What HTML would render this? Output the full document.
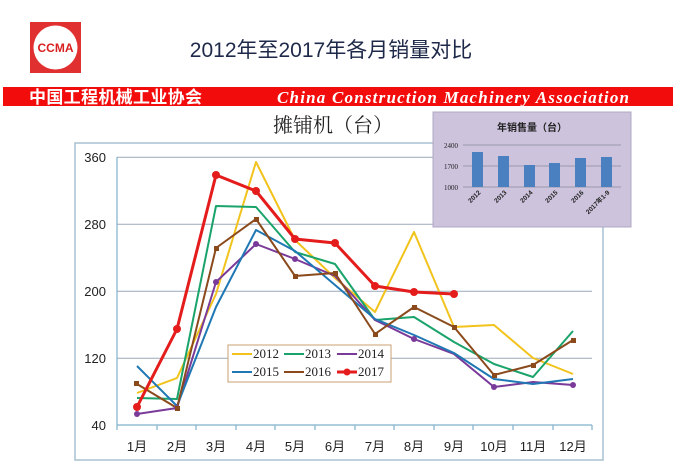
<!DOCTYPE html>
<html><head><meta charset="utf-8"><style>
body{margin:0;background:#fff;}
svg{display:block;}
</style></head><body>
<svg width="673" height="468" viewBox="0 0 673 468" xmlns="http://www.w3.org/2000/svg">
<rect width="673" height="468" fill="#fff"/>
<!-- logo -->
<rect x="30" y="22" width="51" height="51" fill="#e03030"/>
<circle cx="55.5" cy="47.5" r="22" fill="#fff"/>
<text x="55.5" y="52" font-family="Liberation Sans, sans-serif" font-weight="bold" font-size="12" fill="#d82020" text-anchor="middle">CCMA</text>
<text x="331" y="57" font-family="Liberation Sans, 'Noto Sans CJK SC', sans-serif" font-size="21" fill="#1f2a4a" text-anchor="middle">2012年至2017年各月销量对比</text>
<!-- band -->
<rect x="3" y="87" width="670" height="19" fill="#f20c0c"/>
<text x="29" y="103" font-family="'Noto Sans CJK SC', sans-serif" font-weight="bold" font-size="17" fill="#fff" textLength="173">中国工程机械工业协会</text>
<text x="277" y="103" font-family="Liberation Serif, serif" font-weight="bold" font-style="italic" font-size="17" fill="#fff" textLength="352">China Construction Machinery Association</text>
<!-- chart title -->
<text x="333" y="132" font-family="'Noto Serif CJK SC', serif" font-size="20" fill="#222" text-anchor="middle">摊铺机（台）</text>
<!-- frame -->
<rect x="75" y="143" width="528" height="317" fill="none" stroke="#a8c0d0" stroke-width="1.5"/>
<g stroke="#9aa8b8" stroke-width="1">
<line x1="117" y1="157.3" x2="592" y2="157.3"/>
<line x1="117" y1="224.3" x2="592" y2="224.3"/>
<line x1="117" y1="291.3" x2="592" y2="291.3"/>
<line x1="117" y1="358.3" x2="592" y2="358.3"/>
</g>
<g stroke="#7fb0cc" stroke-width="1.2">
<line x1="117" y1="157" x2="117" y2="425"/>
<line x1="117" y1="425" x2="592" y2="425"/>
<line x1="117" y1="425" x2="117" y2="430"/><line x1="157" y1="425" x2="157" y2="430"/><line x1="196" y1="425" x2="196" y2="430"/><line x1="236" y1="425" x2="236" y2="430"/><line x1="275" y1="425" x2="275" y2="430"/><line x1="315" y1="425" x2="315" y2="430"/><line x1="355" y1="425" x2="355" y2="430"/><line x1="394" y1="425" x2="394" y2="430"/><line x1="434" y1="425" x2="434" y2="430"/><line x1="473" y1="425" x2="473" y2="430"/><line x1="513" y1="425" x2="513" y2="430"/><line x1="553" y1="425" x2="553" y2="430"/><line x1="592" y1="425" x2="592" y2="430"/>
</g>
<g font-family="Liberation Sans, sans-serif" font-size="13" fill="#222" text-anchor="end">
<text x="106" y="162">360</text><text x="106" y="229">280</text><text x="106" y="296">200</text><text x="106" y="363">120</text><text x="106" y="430">40</text>
</g>
<g font-family="Liberation Sans, 'Noto Sans CJK SC', sans-serif" font-size="13" fill="#222" text-anchor="middle">
<text x="137" y="451">1月</text><text x="177" y="451">2月</text><text x="216" y="451">3月</text><text x="256" y="451">4月</text><text x="295" y="451">5月</text><text x="335" y="451">6月</text><text x="375" y="451">7月</text><text x="414" y="451">8月</text><text x="454" y="451">9月</text><text x="494" y="451">10月</text><text x="533" y="451">11月</text><text x="573" y="451">12月</text>
</g>
<g fill="none" stroke-width="2" stroke-linejoin="round">
<polyline stroke="#f2c31c" points="137,393 177,378 216,294 256,162 295,240 335,278 375,312 414,232 454,327 494,325 533,358 573,374"/>
<polyline stroke="#1aa36a" points="137,398 177,399 216,206 256,207 295,252 335,264 375,320 414,317 454,342 494,364 533,377 573,331"/>
<polyline stroke="#7a3a9a" points="137,414 177,408 216,282 256,244 295,259 335,276 375,320 414,339 454,354 494,387 533,382 573,385"/>
<polyline stroke="#1f78b4" points="137,366 177,406 216,307 256,230 295,251 335,285 375,319 414,335 454,353 494,379 533,384 573,379"/>
<polyline stroke="#8b4a1c" points="137,384 177,408 216,248 256,219 295,276 335,273 375,334 414,307 454,327 494,375 533,365 573,340"/>
<polyline stroke="#e41c1c" stroke-width="3" points="137,407 177,329 216,175 256,191 295,239 335,243 375,286 414,292 454,294"/>
</g>
<g fill="#e41c1c">
<circle cx="137" cy="407" r="4"/><circle cx="177" cy="329" r="4"/><circle cx="216" cy="175" r="4"/><circle cx="256" cy="191" r="4"/><circle cx="295" cy="239" r="4"/><circle cx="335" cy="243" r="4"/><circle cx="375" cy="286" r="4"/><circle cx="414" cy="292" r="4"/><circle cx="454" cy="294" r="4"/>
</g>
<g fill="#7a3a9a"><circle cx="137" cy="414" r="3"/><circle cx="177" cy="408" r="3"/><circle cx="216" cy="282" r="3"/><circle cx="256" cy="244" r="3"/><circle cx="295" cy="259" r="3"/><circle cx="414" cy="339" r="3"/><circle cx="494" cy="387" r="3"/><circle cx="573" cy="385" r="3"/></g>
<g fill="#8b4a1c"><rect x="134" y="381" width="5" height="5"/><rect x="175" y="406" width="5" height="5"/><rect x="214" y="246" width="5" height="5"/><rect x="254" y="217" width="5" height="5"/><rect x="293" y="274" width="5" height="5"/><rect x="333" y="271" width="5" height="5"/><rect x="373" y="332" width="5" height="5"/><rect x="412" y="305" width="5" height="5"/><rect x="452" y="325" width="5" height="5"/><rect x="492" y="373" width="5" height="5"/><rect x="531" y="363" width="5" height="5"/><rect x="571" y="338" width="5" height="5"/></g>
<!-- legend -->
<rect x="228" y="345" width="163" height="37" fill="#fff" stroke="#c8a070" stroke-width="1"/>
<g font-family="Liberation Serif, serif" font-size="13" fill="#222">
<line x1="232" y1="354" x2="252" y2="354" stroke="#f2c31c" stroke-width="2"/><text x="253" y="358">2012</text>
<line x1="284" y1="354" x2="304" y2="354" stroke="#1aa36a" stroke-width="2"/><text x="305" y="358">2013</text>
<line x1="337" y1="354" x2="357" y2="354" stroke="#7a3a9a" stroke-width="2"/><text x="358" y="358">2014</text>
<line x1="232" y1="372" x2="252" y2="372" stroke="#1f78b4" stroke-width="2"/><text x="253" y="376">2015</text>
<line x1="284" y1="372" x2="304" y2="372" stroke="#8b4a1c" stroke-width="2"/><text x="305" y="376">2016</text>
<line x1="337" y1="372" x2="357" y2="372" stroke="#e41c1c" stroke-width="3"/><circle cx="347" cy="372" r="3.5" fill="#e41c1c"/><text x="358" y="376">2017</text>
</g>
<!-- inset -->
<rect x="433" y="112" width="198" height="115" fill="#cdc3dd" stroke="#b0a8c4"/>
<text x="532" y="131" font-family="'Noto Sans CJK SC', sans-serif" font-weight="bold" font-size="10" fill="#222" text-anchor="middle">年销售量（台）</text>
<g stroke="#8a8a9a" stroke-width="0.8"><line x1="463" y1="145" x2="621" y2="145"/><line x1="463" y1="166" x2="621" y2="166"/><line x1="463" y1="187" x2="621" y2="187"/></g>
<g font-family="Liberation Serif, serif" font-size="7" fill="#222" text-anchor="end"><text x="458" y="148">2400</text><text x="458" y="169">1700</text><text x="458" y="190">1000</text></g>
<g fill="#4a7fc0">
<rect x="472" y="152" width="11" height="35"/><rect x="498" y="156" width="11" height="31"/><rect x="524" y="165" width="11" height="22"/><rect x="549" y="163" width="11" height="24"/><rect x="575" y="158" width="11" height="29"/><rect x="601" y="157" width="11" height="30"/>
</g>
<g font-family="Liberation Sans, 'Noto Sans CJK SC', sans-serif" font-weight="bold" font-size="6.5" fill="#222" text-anchor="end">
<text transform="translate(481,193) rotate(-45)">2012</text><text transform="translate(507,193) rotate(-45)">2013</text><text transform="translate(533,193) rotate(-45)">2014</text><text transform="translate(558,193) rotate(-45)">2015</text><text transform="translate(584,193) rotate(-45)">2016</text><text transform="translate(610,193) rotate(-45)">2017年1-9</text>
</g>
</svg>
</body></html>
